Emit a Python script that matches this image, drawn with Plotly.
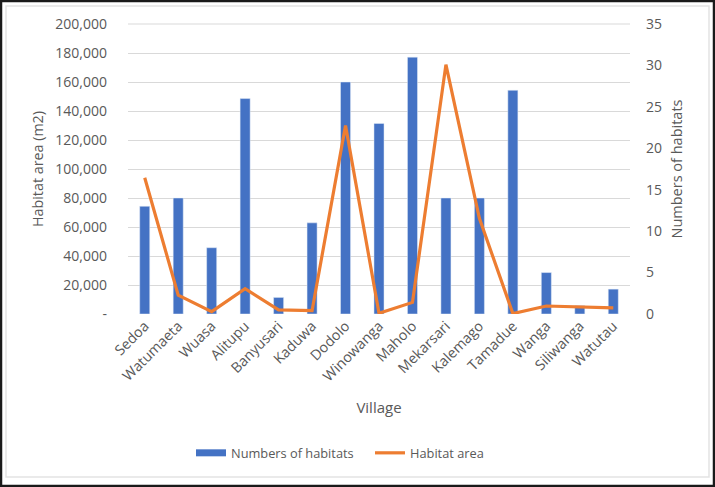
import plotly.graph_objects as go

villages = ["Sedoa", "Watumaeta", "Wuasa", "Alitupu", "Banyusari", "Kaduwa", "Dodolo",
            "Winowanga", "Maholo", "Mekarsari", "Kalemago", "Tamadue", "Wanga",
            "Siliwanga", "Watutau"]
num_habitats = [13, 14, 8, 26, 2, 11, 28, 23, 31, 14, 14, 27, 5, 1, 3]
habitat_area = [94000, 13000, 1600, 17500, 2800, 2300, 130000, 500, 8000, 172000,
                66000, 300, 5500, 4700, 4200]

left_ticks = list(range(0, 200001, 20000))
left_text = ["-"] + [f"{v:,}" for v in left_ticks[1:]]
right_ticks = list(range(0, 36, 5))

grey = "#595959"
font = "Open Sans"
blue = "#4472C4"
orange = "#ED7D31"

L, T, PW, PH = 128, 24, 502, 290
def px(x):
    return (x - L) / PW
def py(y):
    return (T + PH - y) / PH

fig = go.Figure()
fig.add_trace(go.Bar(x=villages, y=num_habitats, name="Numbers of habitats",
                     marker_color=blue, width=0.3, yaxis="y", showlegend=False))
# legend key drawn as a wide bar swatch (no data marks)
fig.add_trace(go.Scatter(x=[None], y=[None], name="Numbers of habitats", mode="lines",
                         line=dict(color=blue, width=7), yaxis="y", hoverinfo="skip"))
fig.add_trace(go.Scatter(x=villages, y=habitat_area, name="Habitat area", mode="lines",
                         line=dict(color=orange, width=3.2), yaxis="y2"))

fig.update_layout(
    width=715, height=487,
    margin=dict(l=L, r=715 - L - PW, t=T, b=487 - T - PH),
    paper_bgcolor="white", plot_bgcolor="white",
    font=dict(family=font, color=grey, size=13),
    showlegend=True,
    legend=dict(orientation="h", x=px(191), xanchor="left", y=py(453), yanchor="middle",
                font=dict(size=12.8, color=grey), traceorder="normal", itemwidth=30,
                entrywidth=134, entrywidthmode="pixels"),
    xaxis=dict(tickangle=-45, tickfont=dict(size=14.3, color=grey), showgrid=False,
               showline=False, ticks="",
               title=dict(text="Village", font=dict(size=15, color=grey), standoff=18)),
    yaxis=dict(range=[0, 35], tickvals=right_ticks, side="right",
               showgrid=False, zeroline=False, tickfont=dict(size=14, color=grey),
               ticks="", ticklabelstandoff=15,
               minor=dict(tick0=0, dtick=3.5, showgrid=True, gridcolor="#d9d9d9",
                          gridwidth=1.2, ticks=""),
               title=dict(text="Numbers of habitats", font=dict(size=14.5, color=grey), standoff=10)),
    yaxis2=dict(range=[0, 200000], tickvals=left_ticks, ticktext=left_text,
                overlaying="y", side="left", showgrid=False, zeroline=False,
                tickfont=dict(size=14, color=grey), ticks="", ticklabelstandoff=20,
                title=dict(text="Habitat area (m2)", font=dict(size=14.3, color=grey), standoff=8)),
    shapes=[
        dict(type="line", xref="paper", yref="paper", x0=0, x1=1, y0=1, y1=1,
             line=dict(color="#d9d9d9", width=1.2), layer="below"),
        dict(type="rect", xref="paper", yref="paper", x0=px(1), x1=px(714),
             y0=py(486), y1=py(1), line=dict(color="#1a1a1a", width=2.5),
             fillcolor="rgba(0,0,0,0)", layer="above"),
        dict(type="rect", xref="paper", yref="paper", x0=px(6), x1=px(709),
             y0=py(477), y1=py(6), line=dict(color="#e3e3e3", width=1.5),
             fillcolor="rgba(0,0,0,0)", layer="below"),
    ],
)

fig.write_html("out.html", config={"displayModeBar": False},
               post_script="document.body.style.margin='0';")
